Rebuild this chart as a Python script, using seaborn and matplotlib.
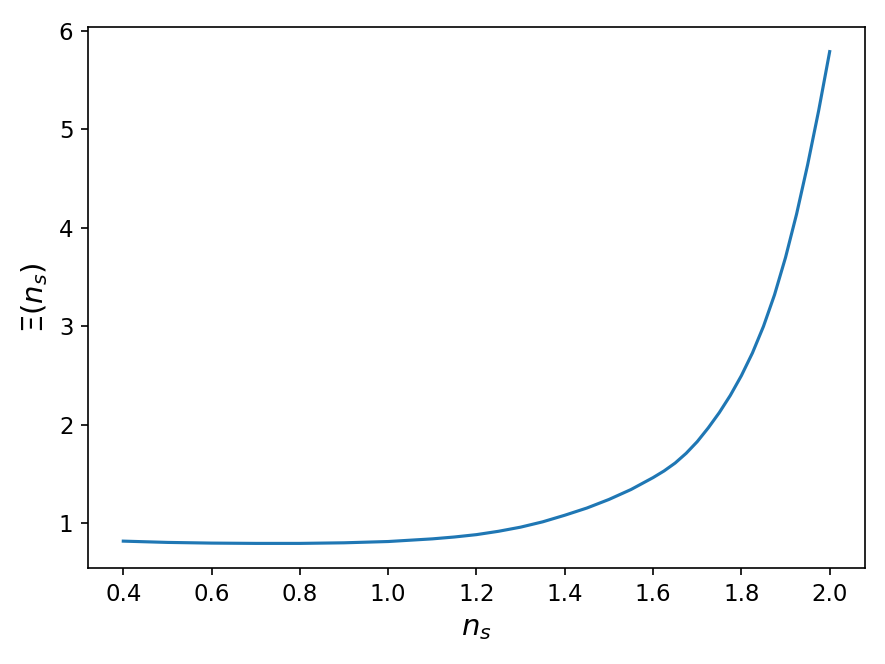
import numpy as np
import pandas as pd
import matplotlib
matplotlib.use("Agg")
import matplotlib.pyplot as plt
import seaborn as sns

# values
n_s = [0.4, 0.5, 0.6, 0.7, 0.8, 0.9, 1.0, 1.1, 1.15, 1.2, 1.25, 1.3, 1.35,
       1.4, 1.45, 1.5, 1.55, 1.6, 1.625, 1.65, 1.675, 1.7, 1.725, 1.75,
       1.775, 1.8, 1.825, 1.85, 1.875, 1.9, 1.925, 1.95, 1.975, 2.0]
xi = [0.82, 0.807, 0.800, 0.797, 0.797, 0.803, 0.816, 0.843, 0.862, 0.886, 0.92, 0.962, 1.016,
      1.083, 1.156, 1.243, 1.344, 1.465, 1.533, 1.613, 1.712, 1.83, 1.97, 2.125,
      2.30, 2.50, 2.73, 3.00, 3.32, 3.70, 4.14, 4.64, 5.19, 5.79]

df = pd.DataFrame({"n_s": n_s, "xi": xi})

fig = plt.figure(figsize=(5.9, 4.4267), dpi=150)
ax = fig.add_axes([0.0994, 0.1446, 0.878, 0.8147])

sns.lineplot(data=df, x="n_s", y="xi", ax=ax, color="#1f77b4", linewidth=1.5)

ax.set_xticks([0.4, 0.6, 0.8, 1.0, 1.2, 1.4, 1.6, 1.8, 2.0])
ax.set_xlabel(r"$n_s$", fontsize=14)
ax.set_ylabel(r"$\Xi(n_s)$", fontsize=14)
ax.tick_params(labelsize=11)

fig.savefig("out.png", dpi=150)
